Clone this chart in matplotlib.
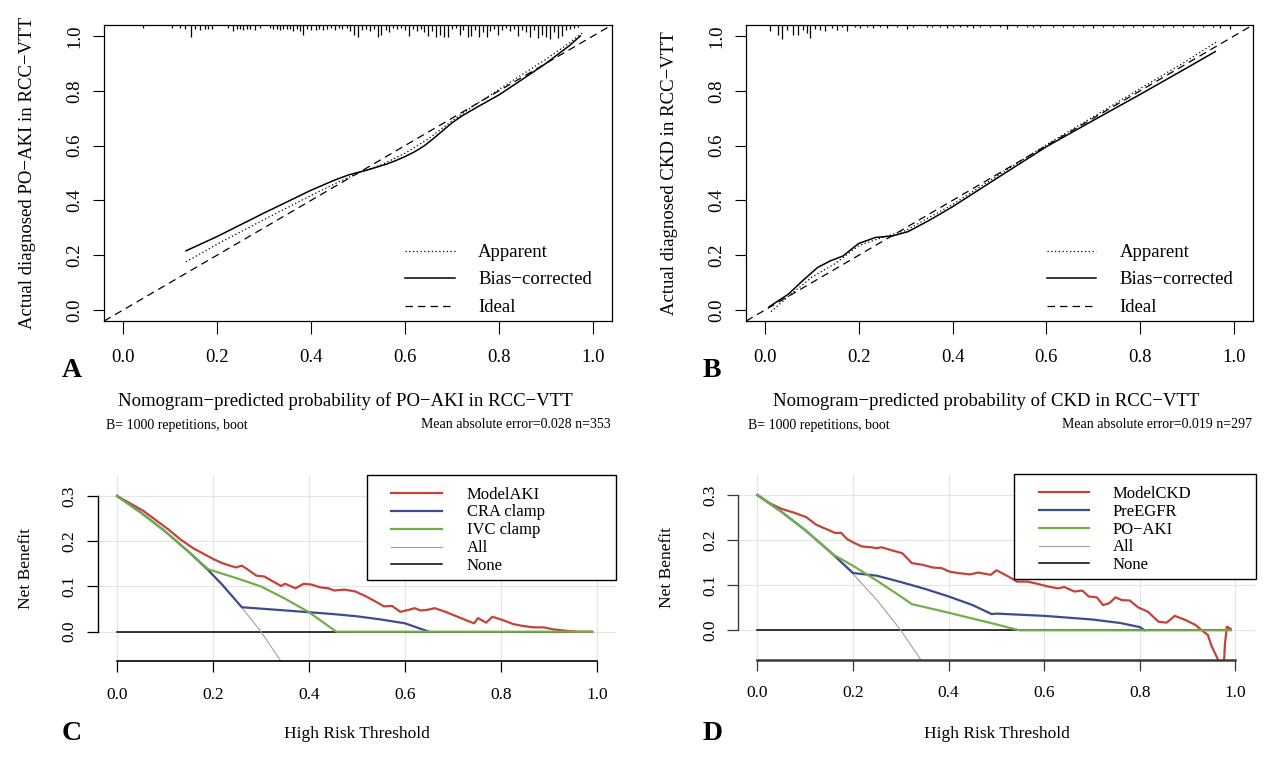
import matplotlib
matplotlib.use("Agg")
import matplotlib.pyplot as plt
import matplotlib.transforms as mtransforms
from matplotlib.lines import Line2D
from matplotlib.patches import Rectangle

plt.rcParams['font.family'] = ['Liberation Serif', 'DejaVu Serif']

# ---------------- data ----------------
# Panel A: calibration PO-AKI
a_app_x = [0.134, 0.2, 0.3, 0.4, 0.45, 0.5, 0.55, 0.6, 0.65, 0.7, 0.75, 0.8, 0.85, 0.9, 0.95, 0.978]
a_app_y = [0.176, 0.24, 0.33, 0.418, 0.46, 0.5, 0.53, 0.572, 0.625, 0.69, 0.75, 0.805, 0.86, 0.915, 0.975, 1.012]
a_bc_x = [0.134, 0.2, 0.3, 0.4, 0.45, 0.48, 0.52, 0.56, 0.58, 0.6, 0.62, 0.64, 0.66, 0.7, 0.72, 0.75, 0.8, 0.85, 0.9, 0.95, 0.973]
a_bc_y = [0.216, 0.268, 0.354, 0.437, 0.474, 0.493, 0.511, 0.532, 0.545, 0.56, 0.577, 0.598, 0.625, 0.683, 0.707, 0.737, 0.785, 0.842, 0.9, 0.965, 1.0]
rugA_x = [0.043, 0.104, 0.121, 0.132, 0.144, 0.153, 0.164, 0.174, 0.181, 0.189,
          0.223, 0.234, 0.243, 0.249, 0.255, 0.264, 0.270, 0.281, 0.291,
          0.313, 0.319, 0.328, 0.334, 0.340, 0.349, 0.355, 0.362, 0.370, 0.377, 0.383, 0.391,
          0.401, 0.410, 0.418, 0.426, 0.435, 0.443, 0.451, 0.460, 0.467, 0.476,
          0.484, 0.492, 0.501, 0.509, 0.517, 0.526, 0.534, 0.542, 0.550, 0.559,
          0.567, 0.575, 0.584, 0.591, 0.600, 0.609, 0.616, 0.625, 0.633, 0.641,
          0.650, 0.658, 0.666, 0.674, 0.683, 0.691, 0.699, 0.708, 0.716, 0.724,
          0.733, 0.740, 0.749, 0.757, 0.765, 0.774,
          0.781, 0.789, 0.798, 0.806, 0.815, 0.823, 0.832, 0.840, 0.849, 0.857,
          0.866, 0.874, 0.883, 0.891, 0.900, 0.909, 0.917, 0.926, 0.934, 0.943,
          0.951, 0.960, 0.968]
rugA_len = [3, 3, 3, 4, 12, 4, 5, 4, 4, 4,
            3, 6, 4, 4, 5, 4, 4, 5, 3,
            3, 4, 4, 5, 4, 4, 4, 6, 4, 6, 10, 4,
            5, 5, 4, 5, 4, 3, 5, 3, 4, 3,
            6, 10, 12, 5, 4, 6, 4, 12, 10, 5,
            7, 3, 4, 3, 5, 11, 4, 6, 4, 7,
            11, 6, 12, 10, 12, 12, 4, 3, 10, 5,
            12, 11, 5, 12, 7, 12,
            6, 4, 10, 5, 3, 6, 4, 11, 5, 7,
            12, 5, 13, 10, 12, 14, 7, 13, 11, 5,
            4, 3, 2]

# Panel B: calibration CKD
b_app_x = [0.013, 0.05, 0.1, 0.15, 0.2, 0.25, 0.3, 0.4, 0.5, 0.6, 0.7, 0.8, 0.9, 0.962]
b_app_y = [-0.006, 0.05, 0.12, 0.17, 0.235, 0.265, 0.29, 0.385, 0.495, 0.603, 0.705, 0.808, 0.91, 0.978]
b_bc_x = [0.009, 0.05, 0.079, 0.112, 0.14, 0.166, 0.2, 0.236, 0.271, 0.305, 0.35, 0.4, 0.5, 0.6, 0.7, 0.8, 0.9, 0.96]
b_bc_y = [0.012, 0.058, 0.105, 0.155, 0.18, 0.197, 0.243, 0.265, 0.27, 0.286, 0.327, 0.377, 0.487, 0.596, 0.692, 0.787, 0.884, 0.943]
rugB_x = [0.011, 0.028, 0.036, 0.047, 0.060, 0.070, 0.081, 0.090, 0.096, 0.107,
          0.117, 0.128, 0.143, 0.154, 0.164, 0.175, 0.192, 0.203, 0.217, 0.230,
          0.245, 0.260, 0.281, 0.303, 0.316,
          0.345, 0.356, 0.373, 0.388, 0.401, 0.416, 0.431, 0.443, 0.458, 0.480,
          0.501, 0.516, 0.537, 0.559, 0.571, 0.586, 0.614, 0.635, 0.657, 0.678,
          0.699, 0.721, 0.742, 0.763, 0.785, 0.806, 0.827, 0.849, 0.870, 0.891,
          0.913, 0.934, 0.955, 0.970, 0.991]
rugB_len = [6, 10, 14, 5, 10, 10, 5, 8, 13, 4,
            5, 6, 3, 5, 2, 6, 2, 3, 2, 3,
            2, 3, 2, 4, 2,
            2, 2, 2, 3, 2, 2, 2, 3, 2, 2,
            2, 4, 2, 2, 2, 2, 2, 2, 2, 2,
            3, 2, 2, 2, 2, 2, 2, 2, 2, 2,
            2, 2, 2, 3, 4]

# Panel C: decision curves AKI
c_model_x = [0, 0.055, 0.107, 0.132, 0.158, 0.184, 0.2, 0.218, 0.235, 0.248,
             0.26, 0.273, 0.29, 0.307, 0.325, 0.342, 0.35, 0.372, 0.389, 0.406,
             0.423, 0.44, 0.453, 0.474, 0.496, 0.517, 0.538, 0.556, 0.573, 0.59,
             0.607, 0.62, 0.632, 0.645, 0.662, 0.684, 0.705, 0.726, 0.744, 0.752,
             0.769, 0.782, 0.803, 0.825, 0.846, 0.868, 0.889, 0.91, 0.936, 0.961, 0.99]
c_model_y = [0.3, 0.267, 0.226, 0.204, 0.185, 0.17, 0.161, 0.152, 0.146, 0.142,
             0.146, 0.137, 0.124, 0.122, 0.111, 0.101, 0.106, 0.096, 0.106, 0.104,
             0.098, 0.096, 0.091, 0.093, 0.089, 0.079, 0.067, 0.056, 0.057, 0.044,
             0.048, 0.052, 0.047, 0.048, 0.052, 0.044, 0.035, 0.026, 0.0185, 0.030,
             0.020, 0.033, 0.026, 0.017, 0.0126, 0.0096, 0.0096, 0.005, 0.002, 0.0, 0.0]
c_cra_x = [0, 0.05, 0.1, 0.15, 0.19, 0.22, 0.26, 0.3, 0.35, 0.4, 0.45, 0.5, 0.55, 0.6, 0.65]
c_cra_y = [0.3, 0.263, 0.222, 0.176, 0.136, 0.103, 0.054, 0.051, 0.047, 0.043, 0.039, 0.034, 0.027, 0.0185, 0.0]
c_ivc_x = [0, 0.05, 0.1, 0.15, 0.19, 0.25, 0.3, 0.35, 0.4, 0.457, 0.99]
c_ivc_y = [0.3, 0.263, 0.222, 0.176, 0.138, 0.118, 0.1, 0.073, 0.043, 0.0, 0.0]

# "All" and "None" reference strategies (both panels)
all_x = [0, 0.05, 0.1, 0.15, 0.2, 0.25, 0.3, 0.36]
all_y = [0.3, 0.263, 0.222, 0.176, 0.125, 0.067, 0.0, -0.094]
none_x = [0, 0.99]
none_y = [0, 0]

# Panel D: decision curves CKD
d_model_x = [0, 0.025, 0.051, 0.076, 0.102, 0.123, 0.145, 0.162, 0.175, 0.188,
             0.2, 0.218, 0.239, 0.248, 0.26, 0.282, 0.303, 0.323, 0.346, 0.368,
             0.385, 0.402, 0.419, 0.445, 0.462, 0.488, 0.5, 0.522, 0.543, 0.565,
             0.586, 0.608, 0.629, 0.642, 0.663, 0.68, 0.693, 0.71, 0.723, 0.736,
             0.749, 0.762, 0.779, 0.796, 0.817, 0.839, 0.856, 0.873, 0.895, 0.916,
             0.933, 0.942, 0.95, 0.963, 0.97, 0.975, 0.978, 0.982, 0.99]
d_model_y = [0.3, 0.282, 0.269, 0.261, 0.251, 0.234, 0.224, 0.216, 0.216, 0.202,
             0.195, 0.186, 0.184, 0.182, 0.184, 0.177, 0.171, 0.149, 0.145, 0.139,
             0.138, 0.130, 0.127, 0.124, 0.128, 0.123, 0.133, 0.121, 0.108, 0.108,
             0.103, 0.097, 0.093, 0.096, 0.086, 0.088, 0.075, 0.073, 0.056, 0.06,
             0.073, 0.067, 0.066, 0.051, 0.041, 0.019, 0.017, 0.032, 0.023, 0.012,
             -0.003, -0.01, -0.035, -0.064, -0.09, -0.09, -0.03, 0.008, 0.003]
d_egfr_x = [0, 0.05, 0.1, 0.15, 0.2, 0.25, 0.3, 0.35, 0.4, 0.45, 0.49, 0.5, 0.6, 0.7, 0.76, 0.8, 0.81]
d_egfr_y = [0.3, 0.263, 0.222, 0.176, 0.127, 0.121, 0.107, 0.092, 0.075, 0.056, 0.036, 0.037, 0.032, 0.024, 0.016, 0.007, 0.0]
d_aki_x = [0, 0.05, 0.1, 0.16, 0.2, 0.25, 0.3, 0.323, 0.4, 0.45, 0.5, 0.548, 0.99]
d_aki_y = [0.3, 0.263, 0.222, 0.167, 0.143, 0.11, 0.075, 0.058, 0.039, 0.026, 0.013, 0.0, 0.0]

ticks01 = [0, 0.2, 0.4, 0.6, 0.8, 1.0]
tick01_labels = ["0.0", "0.2", "0.4", "0.6", "0.8", "1.0"]
nb_ticks = [0, 0.1, 0.2, 0.3]
nb_labels = ["0.0", "0.1", "0.2", "0.3"]

RED, BLUE, GREEN, GRAY = '#C4423A', '#3E4C8B', '#72AE4C', '#A0A0A0'

# ---------------- figure ----------------
W, H = 1269, 762
fig = plt.figure(figsize=(W / 100, H / 100), dpi=100)
PX = mtransforms.Affine2D().scale(1 / W, -1 / H).translate(0, 1) + fig.transFigure


def axes_px(l, t, r, b):
    return fig.add_axes([l / W, 1 - b / H, (r - l) / W, (b - t) / H])


def T(x, y, s, **kw):
    return fig.text(x, y, s, transform=PX, **kw)


def legend_line(x0, x1, y, **kw):
    fig.add_artist(Line2D([x0, x1], [y, y], transform=PX, **kw))


# ----- calibration panels -----
def calib(l, t, r, b, app_x, app_y, bc_x, bc_y, rx, rl, ylab, xlab, err, letter,
          leg_x0, leg_x1, leg_tx, letter_x):
    ax = axes_px(l, t, r, b)
    ax.set_xlim(-0.04, 1.04)
    ax.set_ylim(-0.04, 1.04)
    for s in ax.spines.values():
        s.set_linewidth(0.9)
    ax.axline((0, 0), slope=1, color='black', lw=0.9, ls=(0, (6, 4)))
    ax.plot(app_x, app_y, color='black', lw=0.9, ls=(0, (1, 2)))
    ax.plot(bc_x, bc_y, color='black', lw=1.1)
    hpx = b - t
    ax.vlines(rx, [1 - v / hpx for v in rl], 1, transform=ax.get_xaxis_transform(),
              color='black', lw=0.9)
    ax.set_xticks(ticks01)
    ax.set_xticklabels(tick01_labels)
    ax.set_yticks(ticks01)
    ax.set_yticklabels(tick01_labels, rotation=90, va='center', ha='right')
    ax.tick_params(axis='x', direction='out', length=9, width=0.8, labelsize=13.5, pad=11)
    ax.tick_params(axis='y', direction='out', length=7.6, width=0.8, labelsize=13.5, pad=7.4)
    cx = (l + r) / 2
    T(cx - 13, 406, xlab, fontsize=13.5, ha='center', va='baseline')
    T(28 + (l - 104.2), (t + b) / 2, ylab, fontsize=13.5, rotation=90, ha='center', va='center')
    T(l + 2, 428.5, "B= 1000 repetitions, boot", fontsize=10, ha='left', va='baseline')
    T(r - 1, 428.5, err, fontsize=10, ha='right', va='baseline')
    T(letter_x, 377, letter, fontsize=20, fontweight='bold', ha='center', va='baseline')
    rows = [250.7, 278.3, 306.0]
    styles = [dict(ls=(0, (1, 2)), lw=0.9), dict(ls='-', lw=1.1), dict(ls=(0, (6, 4)), lw=0.9)]
    names = ["Apparent", "Bias\u2212corrected", "Ideal"]
    for yy, st, nm in zip(rows, styles, names):
        legend_line(leg_x0, leg_x1, yy, color='black', **st)
        T(leg_tx, yy + 6.2, nm, fontsize=13.5, ha='left', va='baseline')
    return ax


calib(104.2, 25, 611.8, 321, a_app_x, a_app_y, a_bc_x, a_bc_y, rugA_x, rugA_len,
      "Actual diagnosed PO\u2212AKI in RCC\u2212VTT",
      "Nomogram\u2212predicted probability of PO\u2212AKI in RCC\u2212VTT",
      "Mean absolute error=0.028 n=353", "A", 405, 455, 478, 72)
calib(746.2, 25, 1252.8, 321, b_app_x, b_app_y, b_bc_x, b_bc_y, rugB_x, rugB_len,
      "Actual diagnosed CKD in RCC\u2212VTT",
      "Nomogram\u2212predicted probability of CKD in RCC\u2212VTT",
      "Mean absolute error=0.019 n=297", "B", 1047, 1096, 1119.5, 712)


# ----- decision curve panels -----
def dca(l, t, r, b, curves, names, ylab_x, letter, letter_x, box, leg_x0, leg_x1, leg_tx, rows,
        spine_color, bottom_lw):
    ax = axes_px(l, t, r, b)
    ax.set_xlim(-0.04, 1.04)
    ax.set_ylim(-0.0652, 0.3452)
    ax.set_xticks(ticks01)
    ax.set_xticklabels(tick01_labels)
    ax.set_yticks(nb_ticks)
    ax.set_yticklabels(nb_labels, rotation=90, va='center', ha='right')
    ax.grid(True, color='#E4E4E4', lw=0.8)
    ax.set_axisbelow(True)
    for side in ['top', 'right']:
        ax.spines[side].set_visible(False)
    ax.spines['left'].set_bounds(0, 0.3)
    ax.spines['bottom'].set_bounds(0, 1.0)
    ax.spines['left'].set_color(spine_color)
    ax.spines['bottom'].set_color(spine_color)
    ax.spines['left'].set_linewidth(1.0)
    ax.spines['bottom'].set_linewidth(bottom_lw)
    ax.tick_params(axis='x', direction='out', length=8, width=0.9, labelsize=12.5, pad=10.5,
                   color=spine_color)
    ax.tick_params(axis='y', direction='out', length=7.6, width=0.9, labelsize=12.5, pad=7,
                   color=spine_color)
    ax.plot(none_x, none_y, color='black', lw=1.1)
    ax.plot(all_x, all_y, color=GRAY, lw=0.8)
    for (xx, yy, col) in curves:
        ax.plot(xx, yy, color=col, lw=1.6)
    cx = (l + r) / 2
    T(cx, 738.5, "High Risk Threshold", fontsize=12.5, ha='center', va='baseline')
    T(ylab_x, (t + b) / 2, "Net Benefit", fontsize=12.5, rotation=90, ha='center', va='center')
    T(letter_x, 740, letter, fontsize=20, fontweight='bold', ha='center', va='baseline')
    bx0, by0, bx1, by1 = box
    fig.add_artist(Rectangle((bx0, by0), bx1 - bx0, by1 - by0, transform=PX,
                             facecolor='white', edgecolor='black', lw=1.0, zorder=5))
    cols = [c[2] for c in curves] + [GRAY, 'black']
    lws = [1.6, 1.6, 1.6, 0.8, 1.1]
    for yy, col, lw, nm in zip(rows, cols, lws, names):
        fig.add_artist(Line2D([leg_x0, leg_x1], [yy, yy], transform=PX, color=col, lw=lw, zorder=6))
        t_ = T(leg_tx, yy + 5.5, nm, fontsize=12, ha='left', va='baseline')
        t_.set_zorder(7)
    return ax


dca(97.8, 475.5, 616.2, 661.2,
    [(c_model_x, c_model_y, RED), (c_cra_x, c_cra_y, BLUE), (c_ivc_x, c_ivc_y, GREEN)],
    ["ModelAKI", "CRA clamp", "IVC clamp", "All", "None"], 26, "C", 72,
    (367, 475, 616, 580), 391, 442, 467, [493.3, 511.0, 529.0, 546.7, 564.3], 'black', 1.2)
dca(738.3, 474.6, 1254.6, 659.7,
    [(d_model_x, d_model_y, RED), (d_egfr_x, d_egfr_y, BLUE), (d_aki_x, d_aki_y, GREEN)],
    ["ModelCKD", "PreEGFR", "PO\u2212AKI", "All", "None"], 667, "D", 712.5,
    (1014, 474.3, 1255.5, 578.7), 1039, 1089, 1113, [492.3, 510.3, 528.0, 545.7, 563.3], '#3A3A3A', 1.8)

fig.savefig("out.png", dpi=100)
